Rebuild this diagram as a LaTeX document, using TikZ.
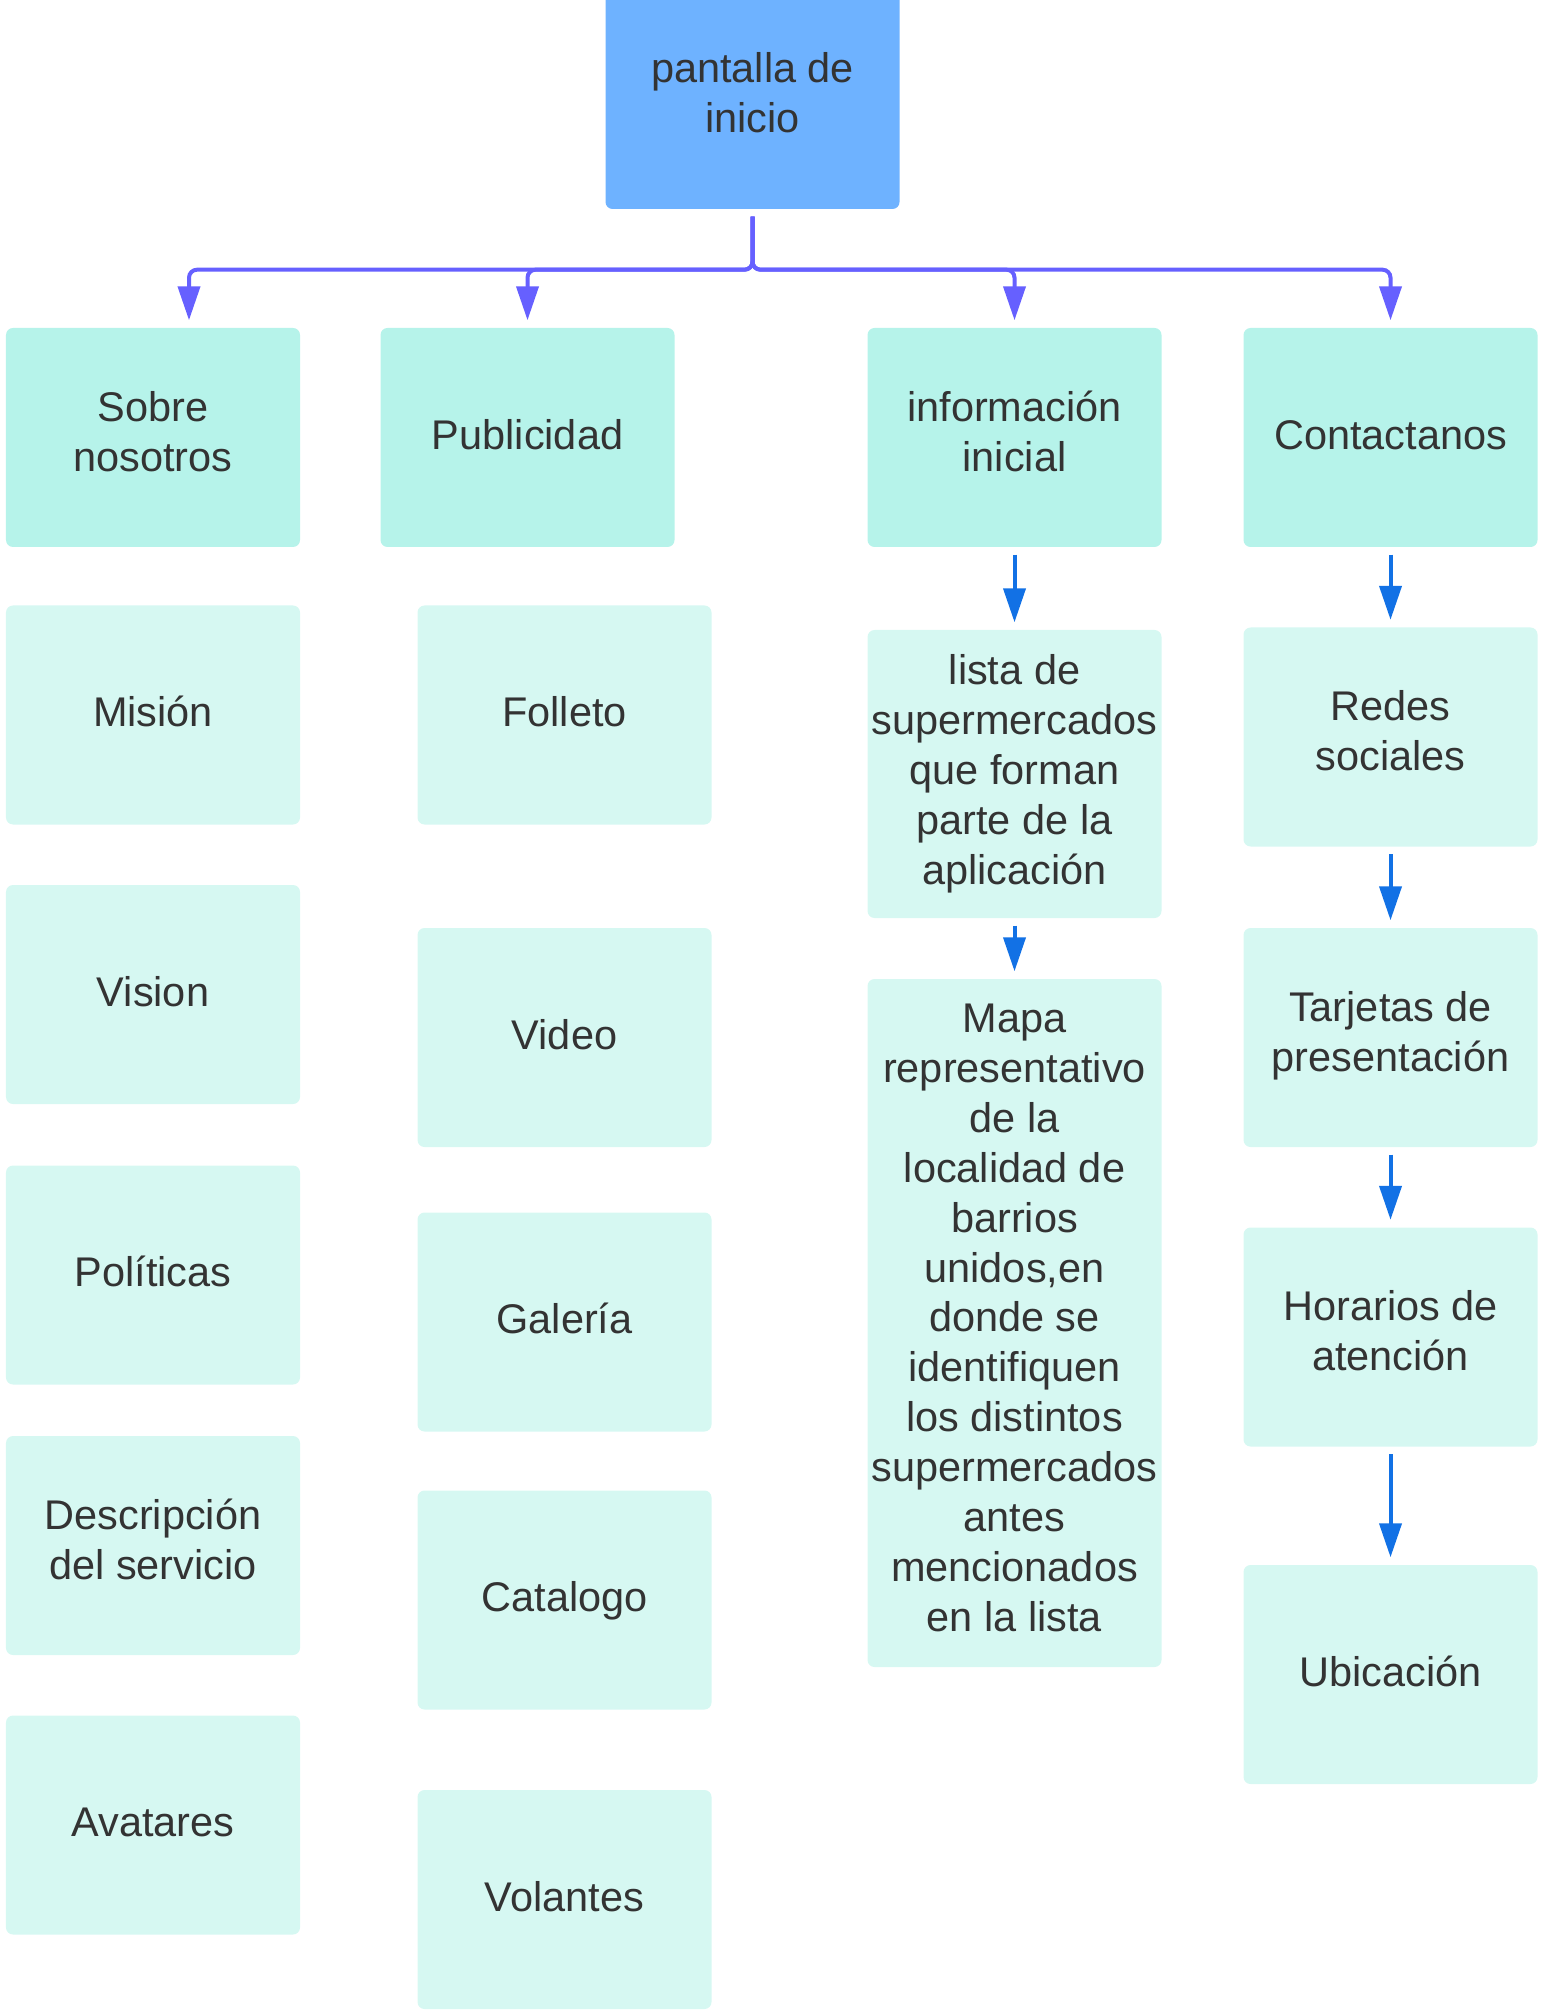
\documentclass[tikz,border=0pt]{standalone}
\usepackage{fontspec}
\setmainfont{Liberation Sans}
\usepackage{xcolor}
\usetikzlibrary{positioning,arrows.meta}
\definecolor{inicioblue}{RGB}{110,178,255}
\definecolor{menuteal}{RGB}{182,243,234}
\definecolor{subteal}{RGB}{214,248,242}
\definecolor{busviolet}{RGB}{102,96,255}
\definecolor{flowblue}{RGB}{18,113,229}
\definecolor{inktext}{RGB}{51,51,51}
% centred lines of a box
\newcommand{\caja}[1]{\begin{tabular}{@{}c@{}}#1\end{tabular}}

\begin{document}
\begin{tikzpicture}[
  box/.style={rounded corners=0.07cm, minimum width=2.94cm, minimum height=2.19cm,
    inner sep=0pt, text=inktext, font=\fontsize{11.8}{14.2}\selectfont,
    text height=0.4cm, text depth=0.21cm},
  uno/.style={text depth=0.154cm},
  home/.style={box, fill=inicioblue, minimum height=2.31cm, text depth=0.1cm},
  menu/.style={box, fill=menuteal},
  item/.style={box, fill=subteal},
  bus/.style={busviolet, line width=0.04cm, rounded corners=0.08cm,
    -{Triangle[length=0.34cm, width=0.22cm]}, shorten >=0.07cm},
  flow/.style={flowblue, line width=0.04cm,
    -{Triangle[length=0.34cm, width=0.22cm]}, shorten <=0.07cm, shorten >=0.07cm}
]
\useasboundingbox (0,0) rectangle (15.42,-20.16);

% pantalla de inicio
\node[home] (inicio) at (7.525,-0.935) {\caja{pantalla de\\inicio}};

% menu
\node[menu] (sobre) at (1.53,-4.375) {\caja{Sobre\\nosotros}};
\node[menu, uno] (publicidad) at (5.275,-4.375) {\caja{Publicidad}};
\node[menu] (info) at (10.145,-4.375) {\caja{información\\inicial}};
\node[menu, uno] (contacto) at (13.905,-4.375) {\caja{Contactanos}};

% Sobre nosotros
\node[item, uno] (mision) at (1.53,-7.15) {\caja{Misión}};
\node[item, uno] (vision) at (1.53,-9.945) {\caja{Vision}};
\node[item, uno] (politicas) at (1.53,-12.75) {\caja{Políticas}};
\node[item] (descripcion) at (1.53,-15.455) {\caja{Descripción\\del servicio}};
\node[item, uno] (avatares) at (1.53,-18.25) {\caja{Avatares}};

% Publicidad
\node[item, uno] (folleto) at (5.645,-7.15) {\caja{Folleto}};
\node[item, uno] (video) at (5.645,-10.375) {\caja{Video}};
\node[item, uno] (galeria) at (5.645,-13.22) {\caja{Galería}};
\node[item, uno] (catalogo) at (5.645,-16.0) {\caja{Catalogo}};
\node[item, uno] (volantes) at (5.645,-18.995) {\caja{Volantes}};

% informacion inicial
\node[item, minimum height=2.88cm, text depth=0.174cm] (lista) at (10.145,-7.74) {\caja{lista de\\supermercados\\que forman\\parte de la\\aplicación}};
\node[item, minimum height=6.88cm] (mapa) at (10.145,-13.23) {\caja{Mapa\\representativo\\de la\\localidad de\\barrios\\unidos,en\\donde se\\identifiquen\\los distintos\\supermercados\\antes\\mencionados\\en la lista}};

% Contactanos
\node[item] (redes) at (13.905,-7.37) {\caja{Redes\\sociales}};
\node[item] (tarjetas) at (13.905,-10.375) {\caja{Tarjetas de\\presentación}};
\node[item] (horarios) at (13.905,-13.37) {\caja{Horarios de\\atención}};
\node[item, uno] (ubicacion) at (13.905,-16.745) {\caja{Ubicación}};

% bus from inicio
\coordinate (junta) at ([yshift=-0.60cm]inicio.south);
\draw[bus] ([yshift=-0.07cm]inicio.south) -- (junta) -| ([xshift=0.36cm]sobre.north);
\draw[bus] ([yshift=-0.07cm]inicio.south) -- (junta) -| (publicidad.north);
\draw[bus] ([yshift=-0.07cm]inicio.south) -- (junta) -| (info.north);
\draw[bus] ([yshift=-0.07cm]inicio.south) -- (junta) -| (contacto.north);

% chains
\draw[flow] (info) -- (lista);
\draw[flow] (lista) -- (mapa);
\draw[flow] (contacto) -- (redes);
\draw[flow] (redes) -- (tarjetas);
\draw[flow] (tarjetas) -- (horarios);
\draw[flow] (horarios) -- (ubicacion);
\end{tikzpicture}
\end{document}
